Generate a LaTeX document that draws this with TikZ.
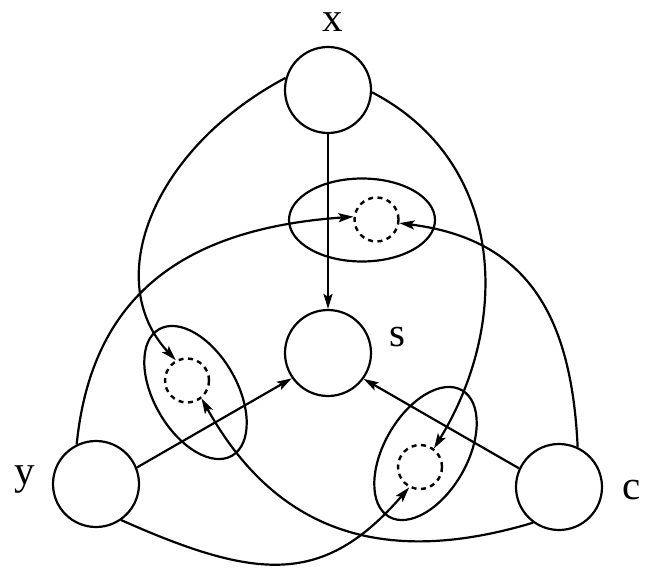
\documentclass[tikz,border=0pt]{standalone}
\usepackage{fontspec}
\setmainfont{Liberation Serif}
\usetikzlibrary{shapes.geometric,arrows.meta}
\begin{document}
\begin{tikzpicture}[x=1pt,y=1pt,
  every path/.style={line width=2.2pt},
  big/.style={circle,draw,line width=2.2pt,minimum size=86pt,inner sep=0pt},
  dsh/.style={circle,draw,line width=2.4pt,dash pattern=on 5pt off 4.5pt,minimum size=44pt,inner sep=0pt},
  ell/.style={ellipse,draw,line width=2.2pt,minimum width=146pt,minimum height=83pt,inner sep=0pt},
  lab/.style={inner sep=0pt,font=\fontsize{41}{41}\selectfont},
  arr/.style={-{Stealth[length=15pt,width=9pt,inset=3pt]},line width=2.2pt}]
\useasboundingbox (0,0) rectangle (647,571);
% main circles
\node[big] (x) at (328,481) {};
\node[big] (s) at (328,218) {};
\node[big] (y) at (96,87) {};
\node[big] (c) at (559,84) {};
% labels
\node[lab] (lx) at (333,549) {x};
\node[lab] (ls) at (397,234) {s};
\node[lab] (ly) at (25,91) {y};
\node[lab] (lc) at (632,81) {c};
% ellipses
\node[ell] (et) at (362,351) {};
\node[ell,rotate=-60] (el) at (195.5,178.5) {};
\node[ell,rotate=60] (er) at (425.5,117.5) {};
% dashed circles
\node[dsh] (dt) at (376.5,351.5) {};
\node[dsh] (dl) at (187,190.5) {};
\node[dsh] (dr) at (420,104) {};
% straight arrows
\draw[arr] (x) -- (s);
\draw[arr] (y.22) -- (s.215);
\draw[arr] (c.155) -- (s.324);
% curved arrows
\draw[arr] (x.164) .. controls +(-132.5,-70.4) and +(-75,80) .. (dl.119);
\draw[arr] (x.-3) .. controls +(133,-69.3) and +(78,127.5) .. (dr.53);
\draw[arr] (y.116) .. controls +(15,149) and +(-170,-12) .. (dt.173);
\draw[arr] (c.65) .. controls +(-6,130) and +(129,-16) .. (dt.-9);
\draw[arr] (y.-55) .. controls +(137,-61) and +(-85,-98) .. (dr.242);
\draw[arr] (c.234) .. controls +(-153,-46) and +(73,-131) .. (dl.-51);
\end{tikzpicture}
\end{document}
